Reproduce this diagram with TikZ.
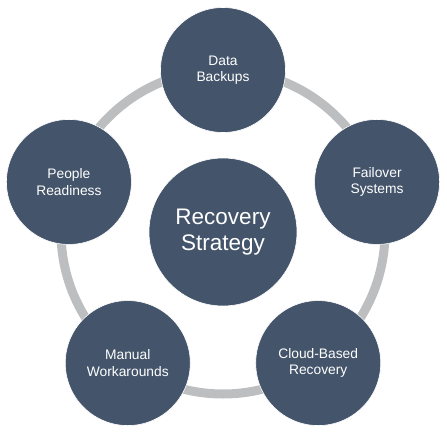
\documentclass[tikz,border=0pt]{standalone}
\usepackage{fontspec}
\setmainfont{Liberation Sans}
\usepackage{tikz}
\usetikzlibrary{positioning}

\definecolor{slate}{HTML}{44546A}
\definecolor{ringgray}{HTML}{BDBEC0}

\begin{document}
\begin{tikzpicture}[
         ring/.style={draw=ringgray, line width=9pt},
         main node/.style={circle,fill=slate,draw=white,line width=0.6pt,text=white,
           minimum size=125pt,inner sep=0pt,align=center,font=\fontsize{13.8}{16.5}\selectfont},
         hub node/.style={main node, minimum size=148pt, font=\fontsize{22.5}{26}\selectfont}]
       \useasboundingbox (-223pt,-200pt) rectangle (224pt,232pt);

       % ring behind the five outer nodes
       \draw[ring] (0,0) circle [radius=162pt];

       \node[hub node] (hub) at (0,0) {Recovery\\Strategy};

       \node[main node] (data) at (90:162pt) {Data\\Backups};
       \node[main node] (failover) at (18:162pt) {Failover\\Systems};
       \node[main node] (cloud) at (-54:162pt) {Cloud-Based\\Recovery};
       \node[main node] (manual) at (-126:162pt) {Manual\\Workarounds};
       \node[main node] (people) at (162:162pt) {People\\Readiness};
      \end{tikzpicture}
\end{document}
